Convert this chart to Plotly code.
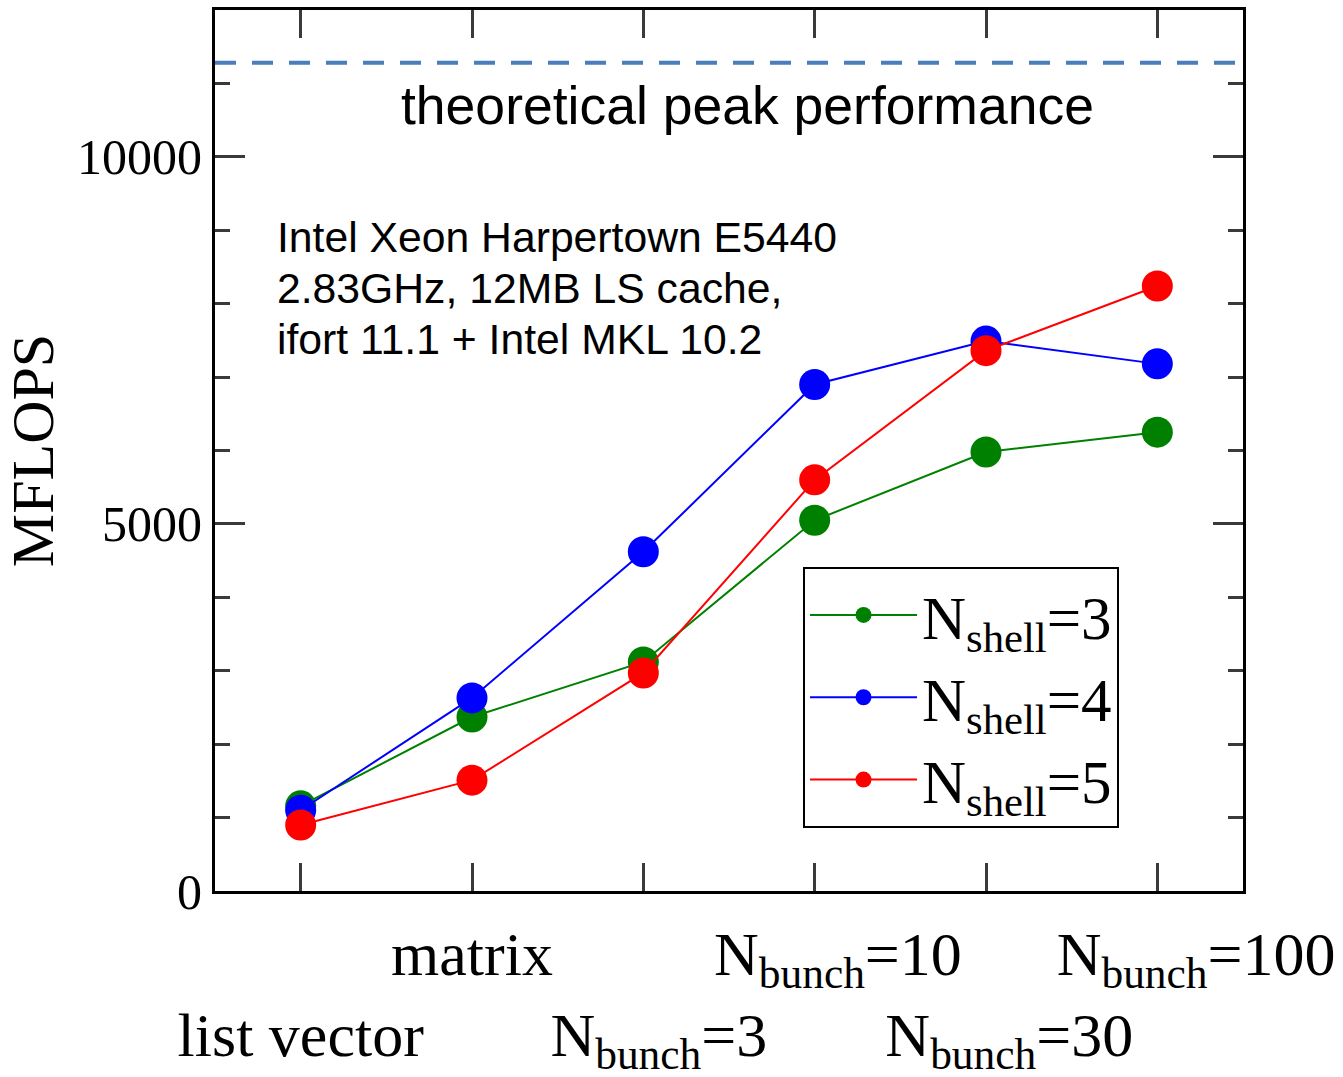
import plotly.graph_objects as go

# ---- data ----
categories = [1, 2, 3, 4, 5, 6]
tick_labels = [
    " <br>list vector",
    "matrix",
    " <br>&nbsp;&nbsp;N<sub>bunch</sub>=3",
    "&nbsp;&nbsp;&nbsp;N<sub>bunch</sub>=10",
    " <br>&nbsp;&nbsp;&nbsp;N<sub>bunch</sub>=30",
    "&nbsp;&nbsp;&nbsp;&nbsp;&nbsp;N<sub>bunch</sub>=100",
]
y_tick_values = [0, 5000, 10000]
y_tick_labels = ["0", "5000", "10000"]
series_names = ["N<sub>shell</sub>=3", "N<sub>shell</sub>=4", "N<sub>shell</sub>=5"]
mflops_shell3 = [1160, 2370, 3120, 5050, 5980, 6250]
mflops_shell4 = [1100, 2630, 4620, 6900, 7490, 7180]
mflops_shell5 = [900, 1510, 2970, 5600, 7360, 8240]
series_colors = ["#008000", "#0000ff", "#ff0000"]
peak_mflops = 11280
info_lines = ["Intel Xeon Harpertown E5440", "2.83GHz, 12MB LS cache,", "ifort 11.1 + Intel MKL 10.2"]

SERIF = "Liberation Serif, Times New Roman, serif"
SANS = "Liberation Sans, Arial, sans-serif"

fig = go.Figure()
for name, vals, col in zip(series_names, [mflops_shell3, mflops_shell4, mflops_shell5], series_colors):
    fig.add_trace(go.Scatter(
        x=categories, y=vals, name=name, mode="lines+markers",
        line=dict(color=col, width=2),
        marker=dict(color=col, size=31, line=dict(width=0)),
    ))

fig.add_shape(type="line", xref="paper", x0=0, x1=1, yref="y", y0=peak_mflops, y1=peak_mflops,
              line=dict(color="#4a7ebb", width=4, dash="21px,16px"))

fig.add_annotation(xref="paper", yref="paper", x=0.518, y=0.892, text="theoretical peak performance",
                   showarrow=False, font=dict(family=SANS, size=53.5, color="black"),
                   xanchor="center", yanchor="middle")
for i, line in enumerate(info_lines):
    fig.add_annotation(xref="paper", yref="paper", x=0.0584, y=0.7423 - i * 0.0579,
                       text=line, showarrow=False, align="left",
                       font=dict(family=SANS, size=42.7, color="black"),
                       xanchor="left", yanchor="middle")

tick_color = "#3a3a3a"
fig.update_xaxes(
    range=[0.5, 6.5], tickmode="array", tickvals=categories, ticktext=tick_labels,
    tickangle=0, automargin=False, ticklabelstandoff=7,
    ticks="inside", ticklen=28, tickwidth=3, tickcolor=tick_color,
    showline=True, linecolor="black", linewidth=3, mirror="allticks",
    showgrid=False, zeroline=False,
    tickfont=dict(family=SERIF, size=62, color="black"),
)
fig.update_yaxes(
    range=[0, 12000], tickmode="array", tickvals=y_tick_values, ticktext=y_tick_labels,
    automargin=False,
    ticks="inside", ticklen=30, tickwidth=3, tickcolor=tick_color,
    minor=dict(dtick=1000, ticks="inside", ticklen=15, tickwidth=3, tickcolor=tick_color, showgrid=False),
    showline=True, linecolor="black", linewidth=3, mirror="allticks",
    showgrid=False, zeroline=False,
    tickfont=dict(family=SERIF, size=50, color="black"),
    title=dict(text="MFLOPS", font=dict(family=SERIF, size=60, color="black"), standoff=15),
)

fig.update_layout(
    width=1343, height=1077,
    margin=dict(l=215, r=100, t=10, b=186),
    paper_bgcolor="white", plot_bgcolor="white",
    showlegend=True,
    legend=dict(
        x=0.572, y=0.368, xanchor="left", yanchor="top",
        bordercolor="black", borderwidth=2, bgcolor="white",
        font=dict(family=SERIF, size=61, color="black"),
        itemsizing="trace", itemwidth=107,
    ),
)

fig.write_html("out.html")
